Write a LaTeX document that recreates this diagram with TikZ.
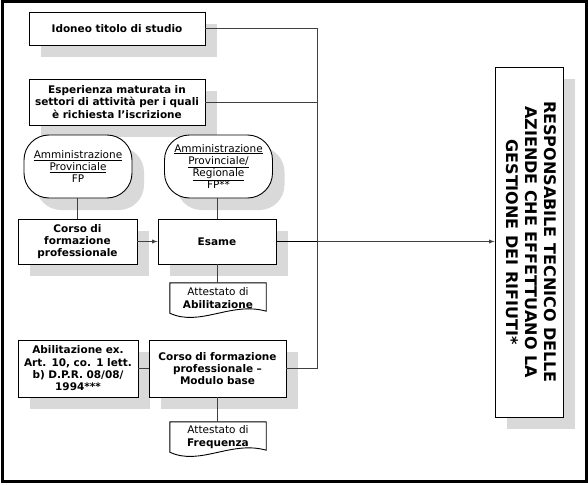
\documentclass[tikz,border=0pt]{standalone}
\usepackage{fontspec}
\setmainfont{DejaVu Sans}
\usepackage{graphicx}
\usepackage{tikz}
\usetikzlibrary{
    shapes,
    shapes.geometric,
    positioning,
    shadows,
    calc,
    arrows,
    backgrounds
}
\colorlet{shadowgray}{black!15}
\tikzset{
  basic/.style = {
      draw,
      line width=0.9pt,
      fill=white,
      align=center,
      inner sep=2pt,
      font=\fontsize{10.5}{12.3}\selectfont,
      drop shadow={shadow xshift=12pt, shadow yshift=-12pt,
                   fill=shadowgray, opacity=1}
  },
  box/.style = {
      basic,
      rectangle,
      font=\fontsize{10.5}{12.3}\selectfont\bfseries
  },
  round/.style = {
      basic,
      rectangle,
      rounded corners=25pt,
      text width=104pt,
      minimum height=63pt
  },
  doc/.style = {
      align=center,
      inner sep=0pt,
      minimum width=96pt,
      minimum height=30pt,
      font=\fontsize{10.5}{12.3}\selectfont
  },
  link/.style = {
      draw=black!75,
      line width=0.9pt
  }
}
% outline of a document shape round a node
\newcommand{\docpath}[1]{(#1.north west) -- (#1.north east)
  -- ([yshift=2pt]#1.south east)
  .. controls ([xshift=-35pt,yshift=12pt]#1.south east)
  and ([xshift=30pt,yshift=-14pt]#1.south west) .. (#1.south west) -- cycle}
\newcommand{\ulined}[1]{\underline{#1}}

\begin{document}
\begin{tikzpicture}[x=1pt, y=-1pt, >=latex]
    \useasboundingbox (0,0) rectangle (588,484);
    \draw[line width=3pt] (2,2) rectangle (586,481);
    % left column
    \node[box, text width=172pt, minimum height=33pt] (idoneo) at (117,28.5)
        {Idoneo titolo di studio};
    \node[box, text width=172pt, minimum height=46pt] (esperienza) at (117,102)
        {Esperienza maturata in\\settori di attivit\`a per i quali\\\`e richiesta l'iscrizione};
    \node[round] (admprov) at (78,166.5)
        {\ulined{Amministrazione}\\\ulined{Provinciale}\\FP};
    \node[round] (admreg) at (218.5,166.5)
        {\ulined{Amministrazione}\\\ulined{Provinciale/}\\\ulined{Regionale}\\FP**};
    \node[box, text width=115pt, minimum height=45pt] (corso) at (77.5,241.5)
        {Corso di\\formazione\\professionale};
    \node[box, text width=114pt, minimum height=45pt] (esame) at (217,241.5)
        {Esame};
    \node[doc] (attab) at (218,298) {Attestato di\\\textbf{Abilitazione}};
    \node[box, text width=116pt, minimum height=57pt] (abilex) at (78,368.5)
        {Abilitazione ex.\\Art. 10, co. 1 lett.\\b) D.P.R. 08/08/\\1994***};
    \node[box, text width=133pt, minimum height=57pt] (modulo) at (217.5,368.5)
        {Corso di formazione\\professionale --\\Modulo base};
    \node[doc] (attfreq) at (218,437) {Attestato di\\\textbf{Frequenza}};
    % right box
    \node[box, minimum width=68pt, minimum height=350pt, inner sep=0pt] (resp) at (529,242)
        {\rotatebox{-90}{\fontsize{16}{19}\selectfont\bfseries
         \begin{tabular}{@{}c@{}}RESPONSABILE TECNICO DELLE\\AZIENDE CHE EFFETTUANO LA\\GESTIONE DEI RIFIUTI*\end{tabular}}};
    % document shapes
    \begin{pgfonlayer}{background}
        \foreach \d in {attab, attfreq} {
            \fill[shadowgray, xshift=12pt, yshift=-12pt] \docpath{\d};
            \filldraw[fill=white, line width=0.9pt] \docpath{\d};
        }
    \end{pgfonlayer}
    % connectors
    \coordinate (bustop) at (317,28.5);
    \coordinate (busbot) at (317,368.5);
    \draw[link] (idoneo.east) -- (bustop) -- (busbot) -- (modulo.east);
    \draw[link] (esperienza.east) -- (esperienza.east -| bustop);
    \draw[link] (admprov.south -| corso.north) -- (corso.north);
    \draw[link] (admreg.south -| esame.north) -- (esame.north);
    \draw[link, ->] (corso) -- (esame);
    \draw[link] (esame.south) -- (attab.north -| esame.south);
    \draw[link, line width=1.6pt, draw=black] (esame.east) -- (esame.east -| bustop);
    \draw[link, ->] (esame.east -| bustop) -- (esame.east -| resp.west);
    \draw[link] (abilex) -- (modulo);
    \draw[link] (modulo.south) -- (attfreq.north -| modulo.south);
\end{tikzpicture}
\end{document}
